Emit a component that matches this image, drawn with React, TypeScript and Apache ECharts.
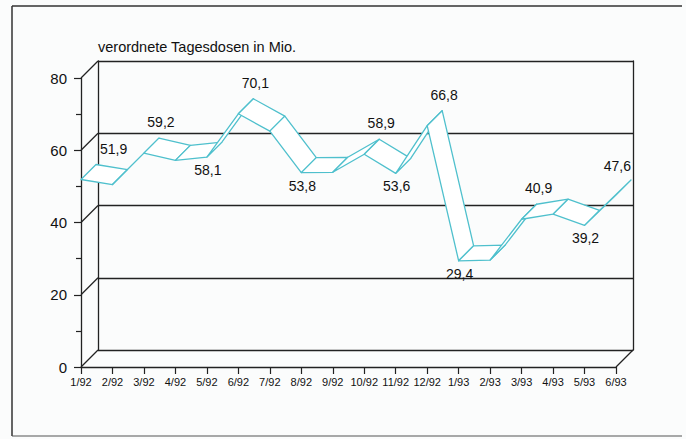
import React, { useEffect, useRef } from 'react';
import * as echarts from 'echarts';

// ---- data ----
const months = ['1/92', '2/92', '3/92', '4/92', '5/92', '6/92', '7/92', '8/92', '9/92', '10/92', '11/92', '12/92', '1/93', '2/93', '3/93', '4/93', '5/93', '6/93'];
const doses = [51.9, 50.5, 59.2, 57.2, 58.1, 70.1, 65.3, 53.8, 53.9, 58.9, 53.6, 66.8, 29.4, 29.6, 40.9, 42.3, 39.2, 47.6];
const labeledMonths = ['1/92', '3/92', '5/92', '6/92', '8/92', '10/92', '11/92', '12/92', '1/93', '3/93', '5/93', '6/93'];
const yTicks = [0, 20, 40, 60, 80];
const yMin = 0;
const yMax = 80;
const yStep = 20;
const titleText = 'verordnete Tagesdosen in Mio.';

// ---- layout ----
const W = 686;
const H = 439;
const FRONT = { left: 81, top: 78, right: 70, bottom: 72 };
const DEPTH = 17;
const RIBBON = 15;
const BACK = { left: FRONT.left + DEPTH, top: FRONT.top - DEPTH, right: FRONT.right - DEPTH, bottom: FRONT.bottom + DEPTH };
const INK = '#222';
const CYAN = '#4fc0cd';
const FONT = 'Liberation Sans, Arial, sans-serif';

const fmt = (v: number) => v.toFixed(1).replace('.', ',');

export default function App() {
  const ref = useRef<HTMLDivElement>(null);
  useEffect(() => {
    if (!ref.current) return;
    const chart = echarts.init(ref.current, undefined, { renderer: 'svg' });
    const last = doses.length - 1;
    const option: any = {
      animation: false,
      backgroundColor: '#fbfcfc',
      textStyle: { fontFamily: FONT },
      title: {
        text: titleText,
        left: 98,
        top: 39,
        padding: 0,
        textStyle: { fontSize: 14.5, fontWeight: 'normal', color: '#111', fontFamily: FONT },
      },
      grid: [
        { left: FRONT.left, top: FRONT.top, right: FRONT.right, bottom: FRONT.bottom },
        { left: BACK.left, top: BACK.top, right: BACK.right, bottom: BACK.bottom },
      ],
      xAxis: [
        {
          type: 'category', gridIndex: 0, data: months, boundaryGap: false,
          axisLine: { show: true, lineStyle: { color: INK, width: 1.3 } },
          axisTick: { show: true, length: 7, interval: 0, lineStyle: { color: INK, width: 1.2 } },
          axisLabel: { interval: 0, fontSize: 11, color: '#111', margin: 9, fontFamily: FONT },
          splitLine: { show: false },
        },
        { type: 'category', gridIndex: 1, data: months, boundaryGap: false, show: false },
      ],
      yAxis: [
        {
          type: 'value', gridIndex: 0, min: yMin, max: yMax, interval: yStep,
          axisLine: { show: true, lineStyle: { color: INK, width: 1.3 } },
          axisTick: { show: true, length: 7, lineStyle: { color: INK, width: 1.2 } },
          minorTick: { show: true, splitNumber: 2, length: 5, lineStyle: { color: INK, width: 1.2 } },
          axisLabel: { fontSize: 15, color: '#111', margin: 14, fontFamily: FONT },
          splitLine: { show: false },
        },
        {
          type: 'value', gridIndex: 1, min: yMin, max: yMax, interval: yStep,
          axisLine: { show: true, lineStyle: { color: INK, width: 1.3 } },
          axisTick: { show: false }, axisLabel: { show: false },
          splitLine: { show: true, lineStyle: { color: INK, width: 1.3 } },
        },
        {
          type: 'value', gridIndex: 1, position: 'right', min: yMin, max: yMax, interval: yStep,
          axisLine: { show: true, lineStyle: { color: INK, width: 1.3 } },
          axisTick: { show: false }, axisLabel: { show: false }, splitLine: { show: false },
        },
      ],
      series: [
        {
          type: 'custom', name: 'depth', xAxisIndex: 0, yAxisIndex: 0, clip: false, silent: true, z: 1,
          data: [...yTicks.map((t) => [0, t]), [last, 0]],
          encode: { x: 0, y: 1 },
          renderItem: (params: any, api: any) => {
            const p = api.coord([api.value(0), api.value(1)]);
            return {
              type: 'line',
              shape: { x1: p[0], y1: p[1], x2: p[0] + DEPTH, y2: p[1] - DEPTH },
              style: { stroke: INK, lineWidth: 1.3 },
            };
          },
        },
        {
          type: 'custom', name: 'ribbon', xAxisIndex: 0, yAxisIndex: 0, clip: false, silent: true, z: 2,
          data: doses.map((v, i) => [i, v]),
          encode: { x: 0, y: 1 },
          renderItem: (params: any, api: any) => {
            const i = api.value(0);
            if (i >= last) return { type: 'group', children: [] };
            const a = api.coord([i, doses[i]]);
            const b = api.coord([i + 1, doses[i + 1]]);
            return {
              type: 'polygon',
              shape: {
                points: [
                  [a[0], a[1]],
                  [b[0], b[1]],
                  [b[0] + RIBBON, b[1] - RIBBON],
                  [a[0] + RIBBON, a[1] - RIBBON],
                ],
              },
              style: { fill: '#ffffff', stroke: CYAN, lineWidth: 1.3, lineJoin: 'round' },
            };
          },
        },
        {
          type: 'custom', name: 'labels', xAxisIndex: 0, yAxisIndex: 0, clip: false, silent: true, z: 3,
          data: doses.map((v, i) => [i, v]),
          encode: { x: 0, y: 1 },
          renderItem: (params: any, api: any) => {
            const i = api.value(0);
            if (!labeledMonths.includes(months[i])) return { type: 'group', children: [] };
            const v = doses[i];
            const prev = i > 0 ? doses[i - 1] : null;
            const next = i < last ? doses[i + 1] : null;
            const nb = [prev, next].filter((x) => x !== null) as number[];
            const avg = nb.reduce((s, x) => s + x, 0) / nb.length;
            const above = v >= avg;
            const p = api.coord([i, v]);
            let x: number, y: number, align: string, vAlign: string;
            if (above) {
              x = p[0] + RIBBON + 2;
              y = p[1] - RIBBON - 9;
              align = 'center';
              vAlign = 'bottom';
              if (i === 0) { x = p[0] + RIBBON + 4; align = 'left'; }
              if (i === last) { x = p[0] + RIBBON; align = 'right'; y = p[1] - RIBBON - 7; }
            } else {
              x = p[0] + 1;
              y = p[1] + 6;
              align = 'center';
              vAlign = 'top';
            }
            return {
              type: 'text',
              x, y,
              style: { text: fmt(v), fill: '#111', fontSize: 14, fontFamily: FONT, align, verticalAlign: vAlign },
            };
          },
        },
      ],
      graphic: [
        { type: 'line', shape: { x1: 12, y1: 6, x2: W - 4, y2: 6 }, style: { stroke: '#333', lineWidth: 1.5 }, silent: true },
        { type: 'line', shape: { x1: 12, y1: 6, x2: 12, y2: H - 3 }, style: { stroke: '#333', lineWidth: 1.5 }, silent: true },
        { type: 'line', shape: { x1: 12, y1: H - 3, x2: W - 4, y2: H - 3 }, style: { stroke: '#555', lineWidth: 1.2 }, silent: true },
      ],
    };
    chart.setOption(option);
    return () => chart.dispose();
  }, []);
  return <div ref={ref} style={{ position: 'fixed', left: 0, top: 0, width: W, height: H }} />;
}
